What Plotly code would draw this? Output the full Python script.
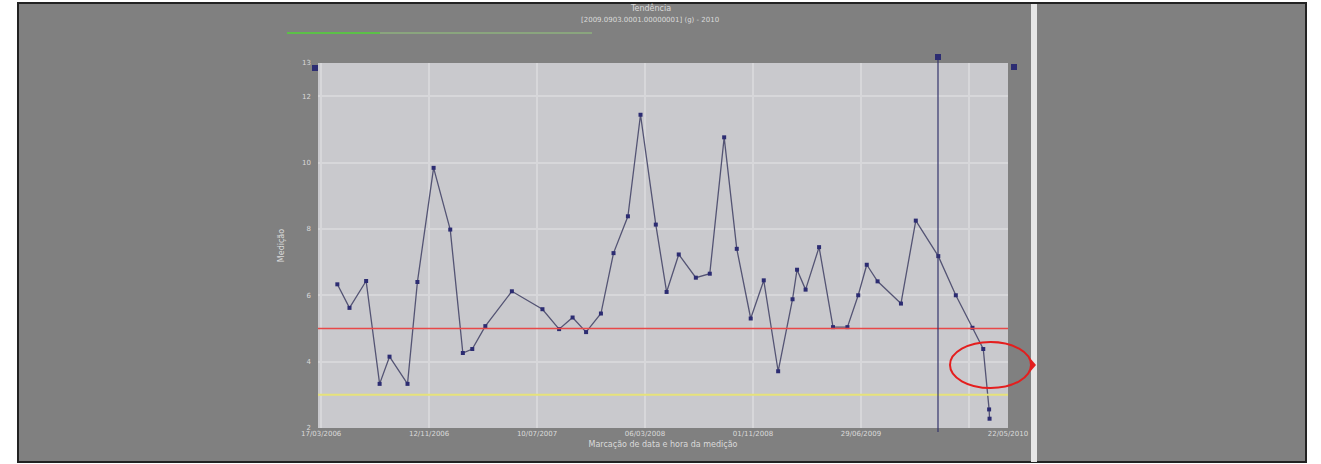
import plotly.graph_objects as go

# ---- data ----
dates = [
    "2006-04-22", "2006-05-19", "2006-06-25", "2006-07-25", "2006-08-16", "2006-09-25",
    "2006-10-17", "2006-11-22", "2006-12-29", "2007-01-26", "2007-02-16", "2007-03-17",
    "2007-05-15", "2007-07-22", "2007-08-28", "2007-09-27", "2007-10-27", "2007-11-29",
    "2007-12-27", "2008-01-28", "2008-02-25", "2008-03-30", "2008-04-23", "2008-05-20",
    "2008-06-27", "2008-07-28", "2008-08-29", "2008-09-26", "2008-10-27", "2008-11-25",
    "2008-12-27", "2009-01-28", "2009-02-07", "2009-02-26", "2009-03-28", "2009-04-28",
    "2009-05-30", "2009-06-23", "2009-07-12", "2009-08-05", "2009-09-26", "2009-10-29",
    "2009-12-18", "2010-01-26", "2010-03-04", "2010-03-28", "2010-04-10", "2010-04-11",
]
values = [
    6.33, 5.62, 6.43, 3.33, 4.15, 3.33,
    6.40, 9.84, 7.98, 4.26, 4.38, 5.07,
    6.12, 5.58, 4.98, 5.33, 4.89, 5.45,
    7.27, 8.38, 11.44, 8.13, 6.10, 7.23,
    6.53, 6.65, 10.76, 7.40, 5.30, 6.45,
    3.71, 5.88, 6.77, 6.17, 7.45, 5.04,
    5.04, 6.00, 6.92, 6.42, 5.75, 8.25,
    7.18, 6.00, 5.02, 4.38, 2.56, 2.28,
]
upper_limit = 5
lower_limit = 3
cursor_date = "2009-12-18"

x_range = ["2006-03-10", "2010-05-22"]
y_range = [2, 13]
x_tickvals = ["2006-03-17", "2006-11-12", "2007-07-10", "2008-03-06", "2008-11-01",
              "2009-06-29", "2010-02-24", "2010-05-22"]
x_ticktext = ["17/03/2006", "12/11/2006", "10/07/2007", "06/03/2008", "01/11/2008",
              "29/06/2009", "", "22/05/2010"]
y_tickvals = [2, 4, 6, 8, 10, 12, 13]
y_ticktext = ["2", "4", "6", "8", "10", "12", "13"]

title_text = "Tendência"
subtitle_text = "[2009.0903.0001.00000001] (g) - 2010"
x_title = "Marcação de data e hora da medição"
y_title = "Medição"

# ---- layout geometry (pixels) ----
W, H = 1321, 464
L, R, T, B = 318, 1008, 63, 428


def px(x):
    return (x - L) / (R - L)


def py(y):
    return (B - y) / (B - T)


GRAY = "#808080"
TXT = "#dadada"
NAVY = "#2c2c72"
PLOTBG = "#c9c9cd"

fig = go.Figure()
fig.add_trace(go.Scatter(
    x=dates, y=values, mode="lines+markers",
    line=dict(color="#545474", width=1.3),
    marker=dict(symbol="square", size=4, color=NAVY),
    showlegend=False, hoverinfo="skip",
))

shapes = [
    # outer gray panel with frame
    dict(type="rect", xref="paper", yref="paper", x0=px(18), x1=px(1306), y0=py(462), y1=py(3),
         fillcolor=GRAY, line=dict(color="#222222", width=2), layer="below"),
    # plot background
    dict(type="rect", xref="paper", yref="paper", x0=0, x1=1, y0=0, y1=1,
         fillcolor=PLOTBG, line=dict(width=0), layer="below"),
    # light vertical strip
    dict(type="rect", xref="paper", yref="paper", x0=px(1031), x1=px(1037), y0=py(462), y1=py(4),
         fillcolor="#e6e6e6", line=dict(width=0), layer="below"),
    # green bar at top
    dict(type="line", xref="paper", yref="paper", x0=px(287), x1=px(380), y0=py(33), y1=py(33),
         line=dict(color="#5cc048", width=2)),
    dict(type="line", xref="paper", yref="paper", x0=px(380), x1=px(592), y0=py(33), y1=py(33),
         line=dict(color="#8aa57e", width=2)),
    # limit lines
    dict(type="line", xref="paper", yref="y", x0=0, x1=1, y0=upper_limit, y1=upper_limit,
         line=dict(color="#e84848", width=1.6)),
    dict(type="line", xref="paper", yref="y", x0=0, x1=1, y0=lower_limit, y1=lower_limit,
         line=dict(color="#e6e27a", width=2)),
    # cursor line
    dict(type="line", xref="paper", yref="paper", x0=px(938), x1=px(938), y0=py(432), y1=py(57),
         line=dict(color="#34346c", width=1.2)),
    dict(type="rect", xref="paper", yref="paper", x0=px(935), x1=px(941), y0=py(60), y1=py(54),
         fillcolor=NAVY, line=dict(width=0)),
    # corner handles
    dict(type="rect", xref="paper", yref="paper", x0=px(312), x1=px(318), y0=py(71), y1=py(65),
         fillcolor=NAVY, line=dict(width=0)),
    dict(type="rect", xref="paper", yref="paper", x0=px(1011), x1=px(1017), y0=py(70), y1=py(64),
         fillcolor=NAVY, line=dict(width=0)),
    # red ellipse highlight
    dict(type="circle", xref="paper", yref="paper", x0=px(950), x1=px(1031), y0=py(388), y1=py(342),
         line=dict(color="#e41e1e", width=2)),
    dict(type="path", xref="paper", yref="paper",
         path=f"M {px(1030)} {py(358)} L {px(1036)} {py(365)} L {px(1030)} {py(372)} Z",
         fillcolor="#e41e1e", line=dict(width=0)),
]

annotations = [
    dict(text=title_text, xref="paper", yref="paper", x=px(650), y=py(8), showarrow=False,
         font=dict(size=8, color=TXT, family="DejaVu Sans"), xanchor="center", yanchor="middle"),
    dict(text=subtitle_text, xref="paper", yref="paper", x=px(650), y=py(20), showarrow=False,
         font=dict(size=7, color=TXT, family="DejaVu Sans"), xanchor="center", yanchor="middle"),
]

fig.update_layout(
    width=W, height=H,
    margin=dict(l=L, r=W - R, t=T, b=H - B),
    paper_bgcolor="white",
    plot_bgcolor=PLOTBG,
    shapes=shapes,
    annotations=annotations,
    font=dict(family="DejaVu Sans", size=7, color=TXT),
    hovermode=False,
    xaxis=dict(
        type="date", range=x_range, tickvals=x_tickvals, ticktext=x_ticktext,
        showgrid=True, gridcolor="#d7d7da", gridwidth=1.5, zeroline=False,
        ticks="", showline=False, tickfont=dict(size=7, color=TXT),
        title=dict(text=x_title, font=dict(size=8, color=TXT), standoff=4),
    ),
    yaxis=dict(
        range=y_range, tickvals=y_tickvals, ticktext=y_ticktext,
        showgrid=True, gridcolor="#d7d7da", gridwidth=1.5, zeroline=False,
        ticks="", showline=False, tickfont=dict(size=7, color=TXT),
        title=dict(text=y_title, font=dict(size=8, color=TXT), standoff=16),
        ticklabelstandoff=6,
    ),
)

fig.write_html("out.html", config={"displayModeBar": False},
               post_script="document.body.style.margin='0px';")
